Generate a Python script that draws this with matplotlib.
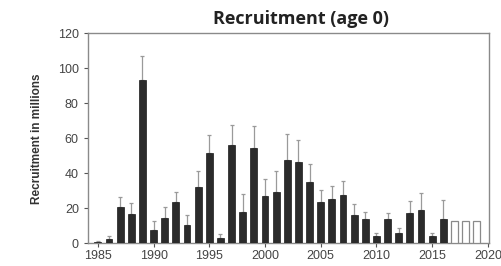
import matplotlib
matplotlib.use("Agg")
import matplotlib.pyplot as plt
import numpy as np

# Recruitment estimates (millions)
years = list(range(1985, 2017))
recruits = [0.8, 2.3, 20.7, 16.5, 93.3, 7.5, 14.7, 23.5, 10.7, 32.3,
            51.7, 3.2, 56.0, 18.2, 54.5, 27.3, 29.5, 47.5, 46.4, 34.8,
            23.5, 25.4, 27.6, 16.0, 13.7, 4.3, 13.7, 6.2, 17.3, 19.2,
            4.3, 13.7]
upper = [1.5, 4.3, 26.7, 23.1, 107.0, 12.6, 20.7, 29.5, 16.0, 41.3,
         62.0, 5.6, 67.4, 28.2, 67.0, 36.6, 41.3, 62.4, 59.2, 45.5,
         30.6, 32.9, 35.7, 22.5, 18.0, 6.2, 17.5, 9.0, 24.0, 28.6,
         6.0, 25.0]
# assumed (projected) years shown as open bars
proj_years = [2017, 2018, 2019]
proj_recruits = [12.6, 12.6, 12.6]

plt.rcParams.update({
    "font.family": ["Liberation Sans", "DejaVu Sans"],
    "font.size": 9,
})

fig = plt.figure(figsize=(5.02, 2.66), dpi=100)
ax = fig.add_axes([0.175, 0.085, 0.799, 0.79])

rec = np.array(recruits)
err = np.array(upper) - rec
ax.bar(years, rec, width=0.62, color="#2b2b2b", edgecolor="#1a1a1a",
       linewidth=0.5, zorder=3)
ax.errorbar(years, rec, yerr=[np.zeros_like(err), err], fmt="none",
            ecolor="#9a9a9a", elinewidth=0.9, capsize=1.5, capthick=0.9,
            zorder=2)
ax.bar(proj_years, proj_recruits, width=0.62, facecolor="white",
       edgecolor="#8a8a8a", linewidth=0.9, zorder=3)

ax.set_xlim(1984.1, 2020.1)
ax.set_ylim(0, 120)
ax.set_xticks(range(1985, 2021, 5))
ax.set_yticks(range(0, 121, 20))
ax.tick_params(colors="#555555", labelcolor="#444444", labelsize=9,
               length=3, width=0.8)
ax.tick_params(axis="x", pad=1.5)
for s in ax.spines.values():
    s.set_color("#8a8a8a")
    s.set_linewidth(1.0)

ax.set_ylabel("Recruitment in millions", fontsize=8.5, fontweight="bold",
              color="#333333", labelpad=11)
fig.text(0.6, 0.93, "Recruitment (age 0)", ha="center", va="center",
         fontsize=13, fontweight="bold", color="#222222",
         family=["Open Sans", "DejaVu Sans"])

fig.savefig("out.png", dpi=100)
